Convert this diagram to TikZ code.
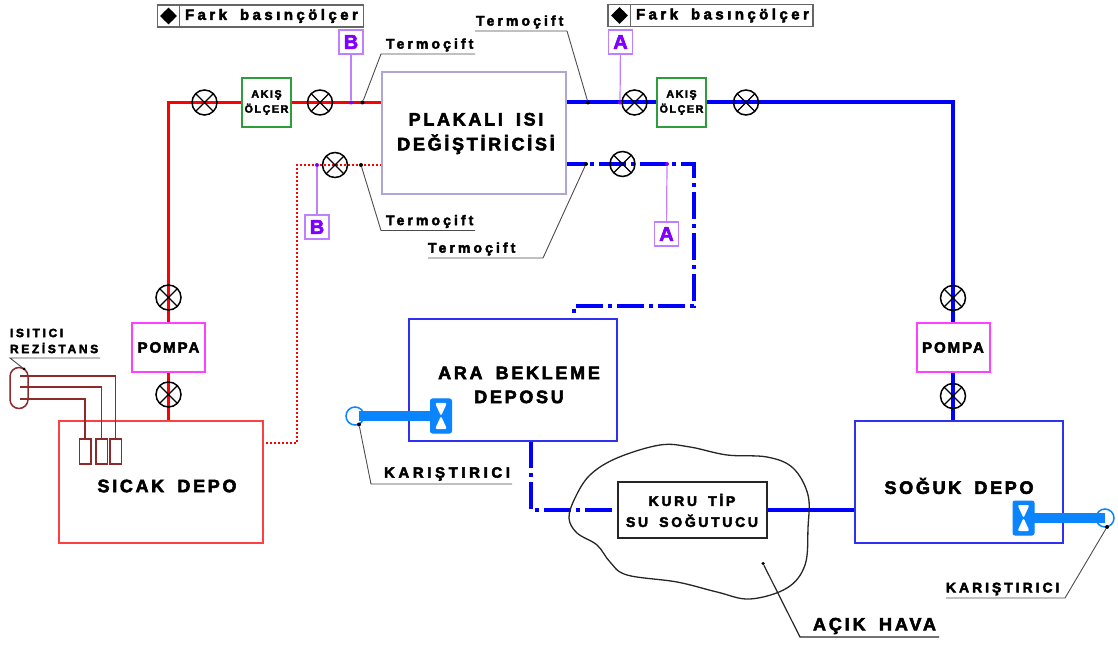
\documentclass[tikz,border=0pt]{standalone}
\usepackage{fontspec}
\setmainfont{Liberation Sans}[WordSpace=1.7]
\usetikzlibrary{shapes.geometric,backgrounds}
\newlength\px \setlength\px{0.75pt}
% size (pt), leading (pt), letter spacing
\newcommand\tlf[3]{\fontsize{#1}{#2}\selectfont\bfseries\addfontfeature{LetterSpace=#3,FakeBold=3}}
\definecolor{hxc}{HTML}{ADA6D6}
\definecolor{redp}{HTML}{FF0000}
\definecolor{bluep}{HTML}{0000FF}
\definecolor{redbox}{HTML}{FF4040}
\definecolor{bluebox}{HTML}{3030F0}
\definecolor{greenb}{HTML}{2E9E3C}
\definecolor{pumpc}{HTML}{FF40FF}
\definecolor{mix}{HTML}{0A84FF}
\definecolor{purp}{HTML}{7F00FF}
\definecolor{purl}{HTML}{BF80FF}
\definecolor{heat}{HTML}{8E2A2A}
\tikzset{
  boxn/.style={draw,rectangle,inner sep=0pt,outer sep=0pt},
  tank/.style={boxn,line width=2\px},
  valve/.style={draw=black,circle,line width=1.5\px,minimum size=25\px,inner sep=0pt,outer sep=0pt,
    path picture={\draw[line width=1.3\px,rotate around={#1:(path picture bounding box.center)}]
      ([shift={(-10\px,-10\px)}]path picture bounding box.center)--([shift={(10\px,10\px)}]path picture bounding box.center)
      ([shift={(-10\px,10\px)}]path picture bounding box.center)--([shift={(10\px,-10\px)}]path picture bounding box.center);}},
  redpipe/.style={draw=redp,line width=3.2\px},
  bluepipe/.style={draw=bluep,line width=4\px},
  dashpipe/.style={draw=bluep,line width=4\px,dash pattern=on 27\px off 5\px on 4\px off 5\px},
  dotpipe/.style={draw=redp,line width=1.5\px,dash pattern=on 2\px off 2\px},
  lead/.style={draw=black!70,line width=0.9\px},
  pdot/.style={circle,fill=purp,inner sep=0pt,minimum size=4\px},
  kdot/.style={circle,fill=black,inner sep=0pt,minimum size=4\px},
  plink/.style={draw=purl,line width=1.2\px},
  tagbox/.style={boxn,draw=purl,line width=1.3\px,minimum width=24\px,minimum height=24\px,text=purp,font=\tlf{15}{16}{0}},
  lbl/.style={inner sep=0pt,outer sep=0pt,align=center},
  big/.style={lbl,font=\tlf{13.5}{18}{15}},
  tc/.style={lbl,font=\tlf{10.5}{12}{22}},
  fark/.style={lbl,font=\tlf{11.25}{12}{23}},
  small/.style={lbl,font=\tlf{8}{11.25}{15}},
  pump/.style={boxn,draw=pumpc,line width=2\px,minimum width=73\px,minimum height=49\px,font=\tlf{11.25}{12}{13}},
  flow/.style={boxn,draw=greenb,line width=2\px,minimum width=49\px,minimum height=49\px,small},
  heater/.style={boxn,draw=heat,line width=1.5\px,minimum width=11.5\px,minimum height=25\px},
  heatw/.style={draw=heat,line width=1.5\px},
  mixer/.style={boxn,draw=mix,fill=mix,line width=1\px,rounded corners=2\px,minimum width=21\px,minimum height=34\px,
    path picture={\fill[white]
      ([shift={(-6\px,-13\px)}]path picture bounding box.center)--([shift={(6\px,-13\px)}]path picture bounding box.center)--(path picture bounding box.center)--cycle
      ([shift={(-6\px,13\px)}]path picture bounding box.center)--([shift={(6\px,13\px)}]path picture bounding box.center)--(path picture bounding box.center)--cycle;}},
  mixshaft/.style={draw=mix,line width=10\px},
  mixring/.style={circle,draw=mix,line width=1.5\px,minimum size=18\px,inner sep=0pt,outer sep=0pt},
}
\begin{document}
\begin{tikzpicture}[x=0.75pt,y=-0.75pt]
\useasboundingbox (0,0) rectangle (1118,645);
% main boxes
\node[boxn,draw=hxc,line width=1.5\px,minimum width=184\px,minimum height=122\px] (hx) at (474,133) {};
\node[big] (hxt) at (476,133.5) {PLAKALI ISI\\[0.6pt]DEĞİŞTİRİCİSİ};
\node[tank,draw=redbox,minimum width=204\px,minimum height=122\px] (sicak) at (161,482) {};
\node[big] (sicakt) at (167,486) {SICAK DEPO};
\node[tank,draw=bluebox,minimum width=208\px,minimum height=122\px] (ara) at (513,380) {};
\node[big] (arat) at (519,385) {ARA BEKLEME\\DEPOSU};
\node[tank,draw=bluebox,minimum width=208\px,minimum height=122\px] (soguk) at (959,482) {};
\node[big] (sogukt) at (959,486) {SOĞUK DEPO};
\node[boxn,draw=black!85,line width=1.6\px,minimum width=149\px,minimum height=56\px] (kuru) at (692.5,510) {};
\node[lbl,font=\tlf{10.5}{15.75}{19}] (kurut) at (692,510.5) {KURU TİP\\SU SOĞUTUCU};
% pumps, flow meters, valves
\node[pump] (pompaL) at (168.5,347.5) {POMPA};
\node[pump] (pompaR) at (953,347.5) {POMPA};
\node[flow] (akisL) at (266.5,102.5) {AKIŞ\\ÖLÇER};
\node[flow] (akisR) at (681.5,102.5) {AKIŞ\\ÖLÇER};
\node[valve=0] (v1) at (204.5,102.5) {};
\node[valve=0] (v2) at (320,102.5) {};
\node[valve=20] (v3) at (335,165) {};
\node[valve=0] (v4) at (634.5,102.5) {};
\node[valve=0] (v5) at (746,102.5) {};
\node[valve=20] (v6) at (622.5,164) {};
\node[valve=0] (vL1) at (168.5,297.5) {};
\node[valve=0] (vL2) at (168.5,394.5) {};
\node[valve=20] (vR1) at (953,298) {};
\node[valve=0] (vR2) at (953,396) {};
% differential pressure legend
\node[boxn,draw=black!60,line width=1.2\px,minimum width=206\px,minimum height=22\px] (f1) at (260.5,16) {};
\node[boxn,draw=black!60,line width=1.2\px,minimum width=205\px,minimum height=22\px] (f2) at (710.5,15.5) {};
\coordinate (f1d) at (179.5,16);
\coordinate (f2d) at (630.5,15.5);
\draw[draw=black!60,line width=1.2\px] (f1d |- f1.north) -- (f1d |- f1.south);
\draw[draw=black!60,line width=1.2\px] (f2d |- f2.north) -- (f2d |- f2.south);
\node[diamond,fill=black,inner sep=0pt,minimum size=17\px] (g1) at (168.5,16) {};
\node[circle,fill=black,inner sep=0pt,minimum size=12\px] (g1c) at (168.5,16) {};
\node[diamond,fill=black,inner sep=0pt,minimum size=17\px] (g2) at (619.5,15.5) {};
\node[circle,fill=black,inner sep=0pt,minimum size=12\px] (g2c) at (619.5,15.5) {};
\node[fark,anchor=west] (f1t) at (185,16) {Fark basınçölçer};
\node[fark,anchor=west] (f2t) at (636,15.5) {Fark basınçölçer};
% tags
\node[tagbox] (tagB1) at (351,42) {B};
\node[tagbox] (tagB2) at (317,227) {B};
\node[tagbox] (tagA1) at (620.5,42) {A};
\node[tagbox] (tagA2) at (666.5,234) {A};
\node[pdot] (pB1) at (351,102.5) {};
\node[pdot] (pB2) at (317,165) {};
\node[pdot] (pA1) at (620,102.5) {};
\node[pdot] (pA2) at (667,164) {};
\draw[plink] (tagB1) -- (pB1);
\draw[plink] (tagB2) -- (pB2);
\draw[plink] (tagA1) -- (pA1);
\draw[plink] (tagA2) -- (pA2);
% thermocouples
\node[kdot] (t1) at (362.5,102.5) {};
\node[kdot] (t2) at (361,165) {};
\node[kdot] (t3) at (588,102.5) {};
\node[kdot] (t4) at (586,164) {};
\node[tc,anchor=west] (t1t) at (386,45) {Termoçift};
\node[tc,anchor=west] (t2t) at (386,221.5) {Termoçift};
\node[tc,anchor=west] (t3t) at (476,22) {Termoçift};
\node[tc,anchor=west] (t4t) at (428,249) {Termoçift};
\coordinate (t1a) at (381,54); \coordinate (t1b) at (475,54);
\coordinate (t2a) at (381,230.5); \coordinate (t2b) at (475,230.5);
\coordinate (t3a) at (567,31); \coordinate (t3b) at (475,31);
\coordinate (t4a) at (543,258); \coordinate (t4b) at (428,258);
\draw[lead] (t1) -- (t1a) -- (t1b);
\draw[lead] (t2) -- (t2a) -- (t2b);
\draw[lead] (t3) -- (t3a) -- (t3b);
\draw[lead] (t4) -- (t4a) -- (t4b);
% heater
\node[boxn,draw=heat,line width=1.5\px,rounded corners=9\px,minimum width=18\px,minimum height=41\px] (rez) at (19,388) {};
\node[heater] (h1) at (85,451.5) {};
\node[heater] (h2) at (101.5,451.5) {};
\node[heater] (h3) at (115.5,451.5) {};
\coordinate (r3) at (20,376); \coordinate (r2) at (20,387); \coordinate (r1) at (20,399);
\draw[heatw] (r1) -- (r1 -| h1.north) -- (h1.north);
\draw[heatw] (r2) -- (r2 -| h2.north) -- (h2.north);
\draw[heatw] (r3) -- (r3 -| h3.north) -- (h3.north);
\node[lbl,anchor=west,font=\tlf{9}{12}{22},align=left] (rezt) at (10,341) {ISITICI\\REZİSTANS};
\node[kdot,minimum size=3\px] (rd) at (24,369) {};
\coordinate (ra) at (10,358); \coordinate (rb) at (100,358);
\draw[lead] (rd) -- (ra) -- (rb);
% mixers
\node[mixer] (m1) at (441,416) {};
\node[mixring] (mr1) at (355,416) {};
\coordinate (ms1) at (358.5,416);
\node[mixer] (m2) at (1023.5,518) {};
\node[mixring] (mr2) at (1105,518) {};
\coordinate (ms2) at (1105,518);
\draw[mixshaft] (ms1) -- (m1);
\draw[mixshaft] (ms2) -- (m2);
\node[kdot] (md1) at (359,424.5) {};
\node[kdot] (md2) at (1107,527) {};
\node[lbl,anchor=west,font=\tlf{11.25}{12}{24}] (k1) at (384,474) {KARIŞTIRICI};
\node[lbl,anchor=west,font=\tlf{10.5}{12}{21}] (k2) at (946,589) {KARIŞTIRICI};
\coordinate (m1a) at (371,484); \coordinate (m1b) at (512,484);
\coordinate (m2a) at (1065,598); \coordinate (m2b) at (946,598);
\draw[lead] (md1) -- (m1a) -- (m1b);
\draw[lead] (md2) -- (m2a) -- (m2b);
% open air
\draw[black!85,line width=1.3\px] plot[smooth cycle,tension=0.6] coordinates {
 (569,518) (575,498) (590,475) (617,458) (660,445) (690,447) (727,455) (767,457)
 (793,468) (808,495) (808,528) (805,565) (787,588) (750,599) (717,592) (677,582)
 (627,575) (610,562) (597,545) (577,533)};
\node[kdot,minimum size=3.5\px] (ad) at (763,563.5) {};
\node[lbl,anchor=west,font=\tlf{13.5}{15}{16}] (acik) at (813,626) {AÇIK HAVA};
\coordinate (aa) at (800,637); \coordinate (ab) at (939,637);
\draw[lead,draw=black!85,line width=1.2\px] (ad) -- (aa) -- (ab);
% pipes
\begin{scope}[on background layer]
\coordinate (rc) at (168.5,102.5);
\coordinate (rd1) at (297,165);
\coordinate (rd2) at (297,443);
\coordinate (bc) at (953,102.5);
\coordinate (d1) at (694,164);
\coordinate (d2) at (694,306);
\coordinate (d3) at (574,306);
\coordinate (d4) at (530.5,510);
\draw[redpipe] (vL2 |- sicak.north) -- (vL2.center) -- (pompaL.south);
\draw[redpipe] (pompaL.north) -- (vL1.center) -- (rc) -- (v1.center) -- (akisL.west);
\draw[redpipe] (akisL.east) -- (v2.center) -- (hx.west |- v2);
\draw[dotpipe] (hx.west |- v3) -- (v3.center) -- (rd1) -- (rd2) -- (rd2 -| sicak.east);
\draw[bluepipe] (hx.east |- v4) -- (v4.center) -- (akisR.west);
\draw[bluepipe] (akisR.east) -- (v5.center) -- (bc) -- (vR1.center) -- (pompaR.north);
\draw[bluepipe] (pompaR.south) -- (vR2.center) -- (vR2 |- soguk.north);
\draw[dashpipe,dash phase=8\px] (hx.east |- v6) -- (v6.center) -- (d1) -- (d2) -- (d3) -- (d3 |- ara.north);
\draw[dashpipe] (d4 |- ara.south) -- (d4) -- (kuru.west);
\draw[bluepipe] (kuru.east) -- (kuru.east -| soguk.west);
\end{scope}
\end{tikzpicture}
\end{document}
